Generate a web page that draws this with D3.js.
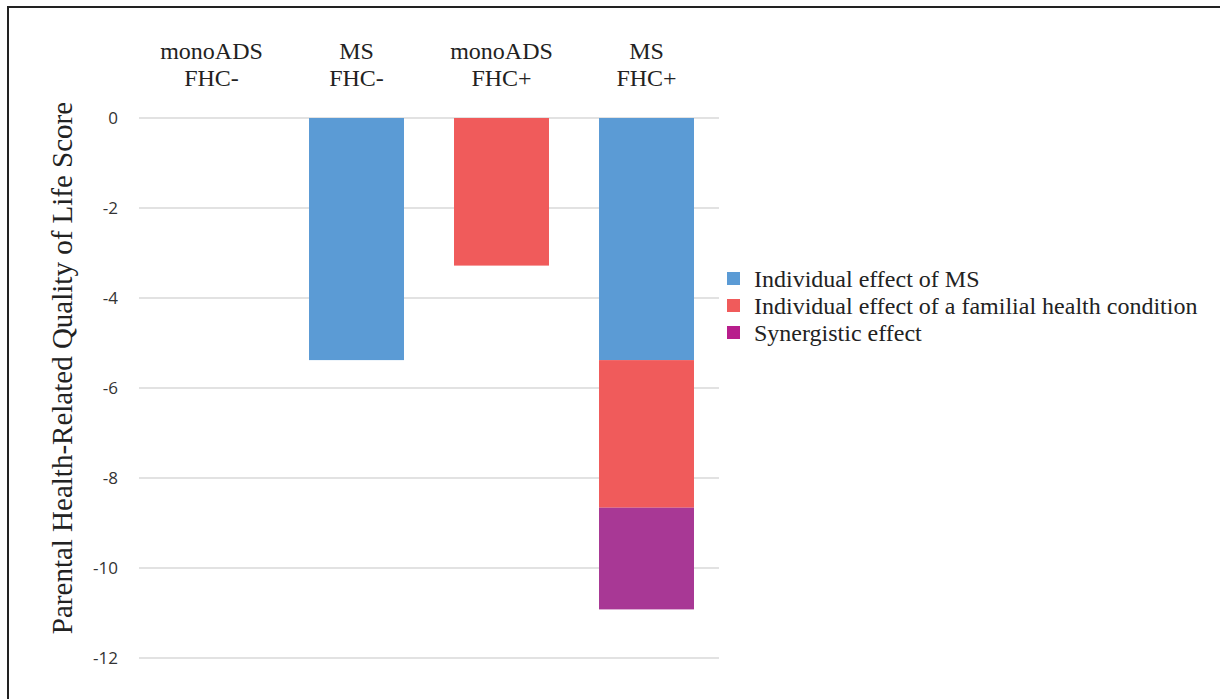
<!DOCTYPE html>
<html>
<head>
<meta charset="utf-8">
<script src="https://cdn.jsdelivr.net/npm/d3@7"></script>
<style>
  html, body { margin: 0; padding: 0; background: #fff; }
  svg { display: block; }
</style>
</head>
<body>
<svg id="chart" width="1220" height="699"></svg>
<script>
// Groups along the top (two-line labels)
const categories = ["monoADS\nFHC-", "MS\nFHC-", "monoADS\nFHC+", "MS\nFHC+"];
// Stacked components of the change in score for each group
const seriesNames = [
  "Individual effect of MS",
  "Individual effect of a familial health condition",
  "Synergistic effect"
];
const msEffect      = [0, -5.38, 0, -5.38];
const fhcEffect     = [0, 0, -3.28, -3.28];
const synergyEffect = [0, 0, 0, -2.26];
const yTicks = [0, -2, -4, -6, -8, -10, -12];

const barColors    = ["#5B9BD5", "#F05B5B", "#A83895"];
const legendColors = ["#5B9BD5", "#F05B5B", "#B81E8C"];

const serif = "'Liberation Serif', 'Times New Roman', Times, serif";
const sans = "'Open Sans', 'Liberation Sans', sans-serif";

const svg = d3.select("#chart");

// frame
svg.append("line").attr("x1", 8).attr("x2", 1220).attr("y1", 7).attr("y2", 7)
  .attr("stroke", "#222").attr("stroke-width", 2);
svg.append("line").attr("x1", 8).attr("x2", 8).attr("y1", 6).attr("y2", 699)
  .attr("stroke", "#222").attr("stroke-width", 2);

const x = d3.scaleBand().domain(categories).range([139, 719]).paddingInner(0.345).paddingOuter(0.1725);
const y = d3.scaleLinear().domain([0, -12]).range([118, 658]);

// gridlines
svg.append("g").selectAll("line").data(yTicks).join("line")
  .attr("x1", 139).attr("x2", 719)
  .attr("y1", d => y(d)).attr("y2", d => y(d))
  .attr("stroke", "#d9d9d9").attr("stroke-width", 1.3);

// y axis tick labels
const yAxis = d3.axisLeft(y).tickValues(yTicks).tickSize(0).tickPadding(0).tickFormat(d3.format("d"));
const gy = svg.append("g").attr("transform", "translate(118,0)").call(yAxis);
gy.select(".domain").remove();
gy.selectAll("text")
  .attr("font-family", sans)
  .attr("font-size", 17).attr("fill", "#333").attr("dy", "0.35em")
  .text(d => d < 0 ? "-" + Math.abs(d) : d);

// stacked bars
const rows = categories.map((c, i) => ({ cat: c, ms: msEffect[i], fhc: fhcEffect[i], syn: synergyEffect[i] }));
const stack = d3.stack().keys(["ms", "fhc", "syn"]).offset(d3.stackOffsetDiverging);
const layers = stack(rows);

svg.append("g").selectAll("g").data(layers).join("g")
  .attr("fill", (d, i) => barColors[i])
  .selectAll("rect").data(d => d).join("rect")
  .attr("x", d => x(d.data.cat))
  .attr("width", x.bandwidth())
  .attr("y", d => y(Math.max(d[0], d[1])))
  .attr("height", d => Math.abs(y(d[0]) - y(d[1])));

// category labels at the top
const catG = svg.append("g");
categories.forEach(c => {
  const lines = c.split("\n");
  const cx = x(c) + x.bandwidth() / 2;
  const t = catG.append("text")
    .attr("x", cx)
    .attr("y", 59)
    .attr("text-anchor", "middle")
    .attr("font-family", serif)
    .attr("font-size", 24).attr("fill", "#222");
  lines.forEach((l, j) => {
    t.append("tspan").attr("x", cx).attr("dy", j === 0 ? 0 : 27).text(l);
  });
});

// y axis title
svg.append("text")
  .attr("transform", "translate(72,368) rotate(-90)")
  .attr("text-anchor", "middle")
  .attr("font-family", serif)
  .attr("font-size", 29).attr("fill", "#222")
  .text("Parental Health-Related Quality of Life Score");

// legend
const legend = svg.append("g").attr("transform", "translate(727,272)");
seriesNames.forEach((name, i) => {
  const g = legend.append("g").attr("transform", `translate(0,${i * 27})`);
  g.append("rect").attr("width", 13).attr("height", 13).attr("fill", legendColors[i]);
  g.append("text").attr("x", 27).attr("y", 6.5).attr("dy", "0.35em")
    .attr("font-family", serif)
    .attr("font-size", 24).attr("fill", "#222").text(name);
});
</script>
</body>
</html>
